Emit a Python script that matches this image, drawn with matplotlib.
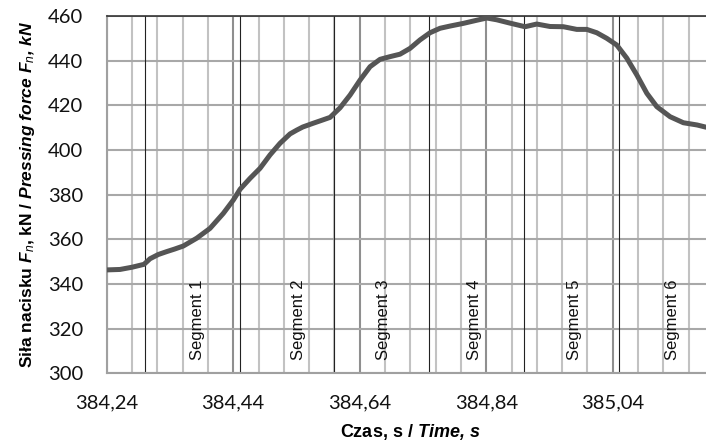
import matplotlib
matplotlib.use("Agg")
import matplotlib.pyplot as plt
from matplotlib.ticker import FixedLocator, MultipleLocator, FuncFormatter

# ---- data ----
time_s = [384.2400, 384.2610, 384.2800, 384.2990, 384.3085, 384.3216, 384.3349, 384.3470,
          384.3611, 384.3823, 384.4033, 384.4243, 384.4402, 384.4508, 384.4666, 384.4824,
          384.4982, 384.5140, 384.5298, 384.5404, 384.5500, 384.5667, 384.5800, 384.5931,
          384.6089, 384.6247, 384.6405, 384.6563, 384.6721, 384.6879, 384.7037, 384.7195,
          384.7353, 384.7511, 384.7669, 384.7828, 384.8038, 384.8250, 384.8408, 384.8566,
          384.8776, 384.9013, 384.9198, 384.9408, 384.9619, 384.9831, 384.9989, 385.0147,
          385.0305, 385.0463, 385.0622, 385.0780, 385.0938, 385.1096, 385.1306, 385.1516,
          385.1733, 385.1875]
force_kN = [346.3, 346.5, 347.5, 348.8, 351.3, 353.2, 354.5, 355.6,
            357.0, 360.5, 364.9, 371.6, 377.6, 382.4, 387.3, 391.8,
            397.8, 403.0, 407.2, 408.9, 410.3, 412.0, 413.3, 414.6,
            418.9, 424.6, 431.3, 437.3, 440.6, 441.8, 442.9, 445.5,
            449.3, 452.5, 454.5, 455.5, 456.7, 458.1, 459.1, 458.3,
            456.8, 455.2, 456.4, 455.3, 455.2, 454.0, 454.0, 452.5,
            450.0, 447.0, 441.1, 433.6, 425.4, 419.4, 414.9, 412.2,
            411.2, 410.2]
segment_bounds = [384.30, 384.45, 384.60, 384.75, 384.90, 385.05]
segment_labels = ["Segment 1", "Segment 2", "Segment 3", "Segment 4", "Segment 5", "Segment 6"]
segment_label_x = [384.383, 384.543, 384.677, 384.822, 384.980, 385.135]
x_ticks = [384.24, 384.44, 384.64, 384.84, 385.04]
y_ticks = [300, 320, 340, 360, 380, 400, 420, 440, 460]

plt.rcParams['mathtext.fontset'] = 'custom'
plt.rcParams['mathtext.rm'] = 'Liberation Sans'
plt.rcParams['mathtext.bf'] = 'Liberation Sans:bold'
plt.rcParams['mathtext.it'] = 'Liberation Sans:italic'
plt.rcParams['mathtext.bfit'] = 'Liberation Sans:bold:italic'

fig = plt.figure(figsize=(7.06, 4.48), dpi=100)
ax = fig.add_axes([106.7 / 706, 74.7 / 448, (714 - 106.7) / 706, (373.3 - 16) / 448])

ax.set_xlim(384.24, 385.20)
ax.set_ylim(300, 460)

# grid
ax.xaxis.set_major_locator(FixedLocator(x_ticks))
ax.xaxis.set_minor_locator(MultipleLocator(0.04))
ax.yaxis.set_major_locator(FixedLocator(y_ticks))
ax.grid(which='minor', axis='x', color='#c2c2c2', lw=1.5, zorder=0)
ax.grid(which='major', axis='x', color='#8f8f8f', lw=1.5, zorder=0)
ax.grid(which='major', axis='y', color='#a8a8a8', lw=1.5, zorder=0)
ax.set_axisbelow(True)

for b in segment_bounds:
    ax.axvline(b, color='#222222', lw=0.8, zorder=1)

ax.plot(time_s, force_kN, color='#555555', lw=3.6, solid_capstyle='round',
        solid_joinstyle='round', zorder=3)

for lx, lab in zip(segment_label_x, segment_labels):
    ax.text(lx, 306, lab, rotation=90, ha='center', va='bottom',
            fontsize=12, family='Liberation Sans', color='#111111', zorder=4)

ax.xaxis.set_major_formatter(FuncFormatter(lambda v, p: f"{v:.2f}".replace('.', ',')))
ax.tick_params(axis='both', which='both', length=0, labelsize=14.5,
               labelfontfamily='Lato', labelcolor='#111111')
ax.tick_params(axis='x', pad=15)
ax.tick_params(axis='y', pad=17)

for side in ['left', 'bottom']:
    ax.spines[side].set_color('#a0a0a0')
    ax.spines[side].set_linewidth(1.5)
ax.spines['top'].set_color('#333333')
ax.spines['top'].set_linewidth(1.2)
ax.spines['right'].set_visible(False)

ax.set_xlabel(r"$\mathbf{Czas{,}\ s\ /\ }\mathbfit{Time{,}\ s}$", fontsize=13, labelpad=8)
ax.set_ylabel(r"$\mathbf{Siła\ nacisku\ }\mathbfit{F}_{\mathit{n}}\mathbf{{,}\ kN\ /\ }\mathbfit{Pressing\ force\ F}_{\mathit{n}}\mathbfit{{,}\ kN}$",
              fontsize=12.5, labelpad=8)

fig.savefig("out.png", dpi=100)
